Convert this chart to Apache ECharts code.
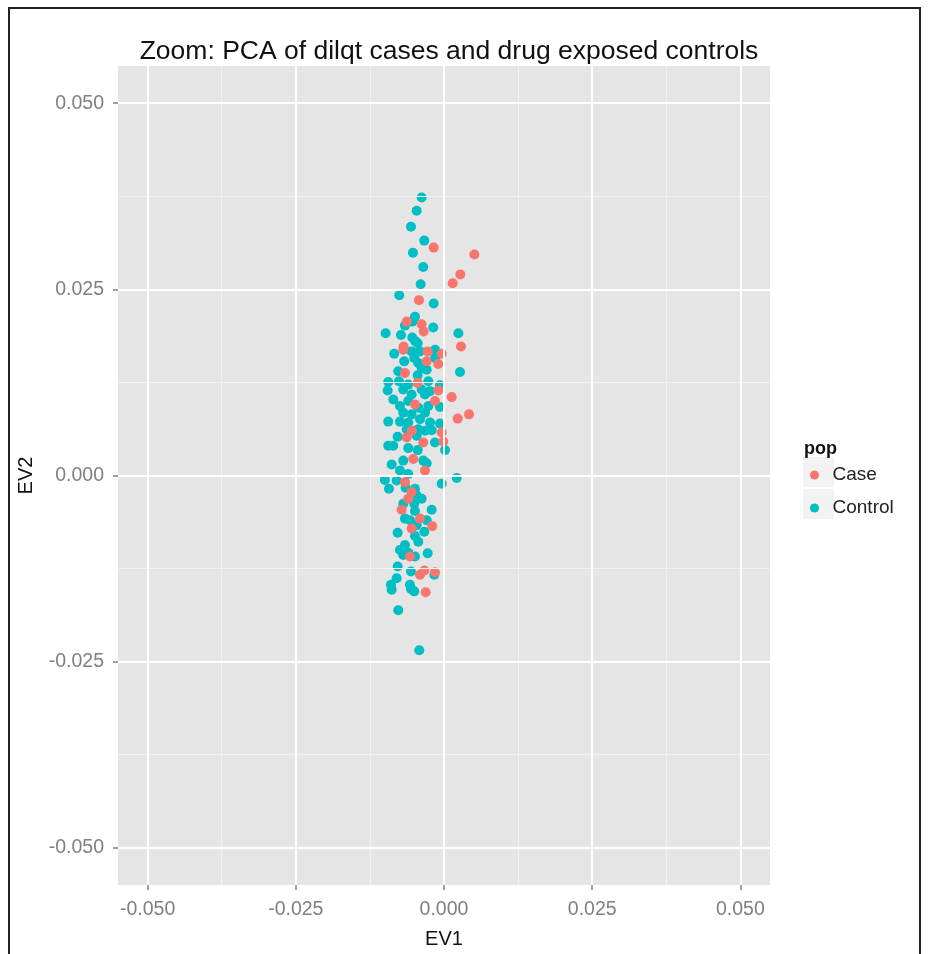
<!DOCTYPE html>
<html>
<head>
<meta charset="utf-8">
<script src="https://cdn.jsdelivr.net/npm/echarts@6/dist/echarts.min.js"></script>
<style>
html,body{margin:0;padding:0;background:#fff;}
#chart{width:930px;height:954px;}
</style>
</head>
<body>
<div id="chart"></div>
<script>
const titleText = "Zoom: PCA of dilqt cases and drug exposed controls";
const xAxisName = "EV1";
const yAxisName = "EV2";
const legendTitle = "pop";
const seriesNames = ["Case", "Control"];

const xTicks = [-0.05, -0.025, 0, 0.025, 0.05];
const yTicks = [-0.05, -0.025, 0, 0.025, 0.05];
const minorTicks = [-0.0375, -0.0125, 0.0125, 0.0375];
const axisMin = -0.055;
const axisMax = 0.055;

const controlEV1 = [
-0.00377,-0.00461,-0.00557,-0.00333,-0.00524,-0.00350,-0.00394,-0.00755,-0.00174,-0.00490,
-0.00535,-0.00659,-0.00181,-0.00985,-0.00726,0.00242,-0.00535,-0.00490,-0.00444,-0.00840,
-0.00546,-0.00405,-0.00152,-0.00671,-0.00502,-0.00434,-0.00152,-0.00377,-0.00292,-0.00772,
0.00270,-0.00444,-0.00941,-0.00760,-0.00603,-0.00265,-0.00068,-0.00951,-0.00688,-0.00377,
-0.00236,-0.00546,-0.00321,-0.00856,-0.00603,-0.00743,-0.00434,-0.00265,-0.00068,-0.00688,
-0.00546,-0.00321,-0.00941,-0.00743,-0.00603,-0.00405,-0.00236,-0.00068,-0.00630,-0.00434,
-0.00321,-0.00208,-0.00782,-0.00461,-0.00152,-0.00941,-0.00856,-0.00603,-0.00444,0.00017,
-0.00688,-0.00350,-0.00292,-0.00883,-0.00743,-0.00603,-0.00997,-0.00799,-0.00039,0.00215,
-0.00929,-0.00647,-0.00490,-0.00461,-0.00377,-0.00688,-0.00502,-0.00490,-0.00208,-0.00659,
-0.00574,-0.00292,-0.00461,-0.00782,-0.00333,-0.00490,-0.00434,-0.00659,-0.00743,-0.00603,
-0.00275,-0.00688,-0.00490,-0.00782,-0.00557,-0.00164,-0.00799,-0.00574,-0.00895,-0.00883,
-0.00557,-0.00502,-0.00772,-0.00417
];
const controlEV2 = [
0.03733,0.03555,0.03341,0.03155,0.02991,0.02800,0.02568,0.02421,0.02311,0.02133,
0.02067,0.02013,0.01987,0.01911,0.01888,0.01911,0.01853,0.01808,0.01777,0.01635,
0.01667,0.01667,0.01688,0.01533,0.01577,0.01511,0.01577,0.01444,0.01421,0.01400,
0.01391,0.01347,0.01257,0.01267,0.01221,0.01267,0.01213,0.01141,0.01155,0.01155,
0.01133,0.01088,0.01088,0.01021,0.01000,0.00933,0.00911,0.00933,0.00920,0.00844,
0.00821,0.00844,0.00724,0.00724,0.00711,0.00755,0.00711,0.00697,0.00621,0.00621,
0.00600,0.00608,0.00520,0.00533,0.00444,0.00400,0.00400,0.00368,0.00341,0.00341,
0.00200,0.00200,0.00164,0.00147,0.00067,0.00021,-0.00059,-0.00067,-0.00112,-0.00032,
-0.00179,-0.00165,-0.00179,-0.00267,-0.00312,-0.00379,-0.00379,-0.00476,-0.00459,-0.00579,
-0.00600,-0.00600,-0.00667,-0.00769,-0.00756,-0.00813,-0.00889,-0.00933,-0.01000,-0.01036,
-0.01045,-0.01067,-0.01089,-0.01223,-0.01289,-0.01333,-0.01379,-0.01467,-0.01467,-0.01533,
-0.01525,-0.01556,-0.01809,-0.02347
];
const caseEV1 = [
-0.00174,0.00512,0.00275,0.00147,-0.00422,-0.00630,-0.00377,-0.00343,-0.00681,0.00287,
-0.00688,-0.00275,-0.00039,-0.00292,-0.00096,-0.00659,-0.00444,-0.00096,0.00130,-0.00152,
-0.00490,0.00422,0.00231,-0.00546,-0.00039,-0.00630,-0.00350,-0.00012,-0.00519,-0.00321,
-0.00659,-0.00546,-0.00603,-0.00715,-0.00405,-0.00198,-0.00546,-0.00574,-0.00405,-0.00333,
-0.00152,-0.00309
];
const caseEV2 = [
0.03061,0.02968,0.02701,0.02581,0.02355,0.02067,0.02031,0.01933,0.01733,0.01733,
0.01688,0.01667,0.01635,0.01533,0.01497,0.01377,0.01244,0.01141,0.01053,0.01000,
0.00955,0.00821,0.00764,0.00600,0.00577,0.00511,0.00444,0.00457,0.00221,0.00067,
-0.00089,-0.00223,-0.00312,-0.00459,-0.00579,-0.00680,-0.00712,-0.01089,-0.01333,-0.01276,
-0.01299,-0.01569
];

const caseColor = "#F8766D";
const controlColor = "#00BFC4";

const zip = (a, b) => a.map((v, i) => [v, b[i]]);
const fmt = v => v.toFixed(3);

const major = {color: "#ffffff", width: 2, type: "solid"};
const minor = {color: "#F2F2F2", width: 1, type: "solid"};
const gridLines = [];
minorTicks.forEach(v => gridLines.push({xAxis: v, lineStyle: minor}));
minorTicks.forEach(v => gridLines.push({yAxis: v, lineStyle: minor}));
xTicks.forEach(v => gridLines.push({xAxis: v, lineStyle: major}));
yTicks.forEach(v => gridLines.push({yAxis: v, lineStyle: major}));

const chart = echarts.init(document.getElementById("chart"), null, {renderer: "canvas"});
const FONT = "Liberation Sans, Arial, Helvetica, sans-serif";

chart.setOption({
  animation: false,
  backgroundColor: "#ffffff",
  textStyle: {fontFamily: FONT},
  title: {
    text: titleText,
    left: 444, top: 33,
    textAlign: "center",
    textStyle: {fontSize: 26.5, fontWeight: "normal", color: "#111", fontFamily: FONT}
  },
  grid: {left: 118, top: 66, width: 652, height: 823, show: true, backgroundColor: "#E5E5E5", borderWidth: 0},
  xAxis: {
    type: "value", min: axisMin, max: axisMax,
    name: xAxisName, nameLocation: "middle", nameGap: 44,
    nameTextStyle: {fontSize: 20, color: "#111", fontFamily: FONT},
    axisLine: {show: false, onZero: false},
    axisTick: {show: true, length: 5, customValues: xTicks, lineStyle: {color: "#808080", width: 1.5}},
    axisLabel: {customValues: xTicks, formatter: fmt, fontSize: 19.5, color: "#808080", margin: 15, fontFamily: FONT},
    splitLine: {show: false}
  },
  yAxis: {
    type: "value", min: axisMin, max: axisMax,
    name: yAxisName, nameLocation: "middle", nameGap: 82, nameRotate: 90,
    nameTextStyle: {fontSize: 20, color: "#111", fontFamily: FONT},
    axisLine: {show: false, onZero: false},
    axisTick: {show: true, length: 5, customValues: yTicks, lineStyle: {color: "#808080", width: 1.5}},
    axisLabel: {customValues: yTicks, formatter: fmt, fontSize: 19.5, color: "#808080", margin: 14, fontFamily: FONT},
    splitLine: {show: false}
  },
  legend: {
    data: seriesNames,
    orient: "vertical",
    left: 805, top: 460,
    itemWidth: 26, itemHeight: 9,
    itemGap: 13,
    icon: "circle",
    textStyle: {fontSize: 19, color: "#222", lineHeight: 20, fontFamily: FONT}
  },
  graphic: [
    {type: "polyline", shape: {points: [[9, 960], [9, 8], [920, 8], [920, 960]]}, style: {stroke: "#222", lineWidth: 2, fill: null}, z: 100},
    {type: "rect", left: 803, top: 457, shape: {width: 31, height: 30}, style: {fill: "#F2F2F2"}, z: -1},
    {type: "rect", left: 803, top: 489, shape: {width: 31, height: 30}, style: {fill: "#F2F2F2"}, z: -1},
    {type: "text", left: 804, top: 440, style: {text: legendTitle, fontSize: 18, fontWeight: "bold", fill: "#111", fontFamily: FONT}}
  ],
  series: [
    {
      name: "grid", type: "scatter", data: [], z: 1, silent: true,
      markLine: {silent: true, precision: 6, symbol: ["none", "none"], label: {show: false}, animation: false, data: gridLines}
    },
    {
      name: "Control", type: "scatter", z: 3,
      symbolSize: 10, itemStyle: {color: controlColor, opacity: 1},
      data: zip(controlEV1, controlEV2)
    },
    {
      name: "Case", type: "scatter", z: 4,
      symbolSize: 10, itemStyle: {color: caseColor, opacity: 1},
      data: zip(caseEV1, caseEV2)
    }
  ]
});
</script>
</body>
</html>
